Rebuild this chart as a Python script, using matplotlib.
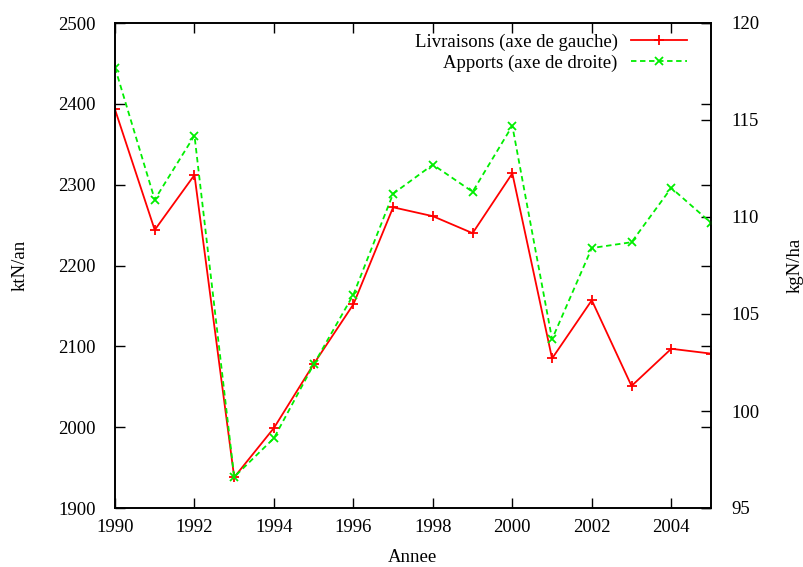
import matplotlib
matplotlib.use("Agg")
import matplotlib.pyplot as plt

years = list(range(1990, 2006))
livraisons = [2393, 2244, 2312, 1938, 1999, 2078, 2152, 2272, 2261, 2240, 2314, 2085, 2157, 2051, 2097, 2091]
apports = [117.7, 110.9, 114.2, 96.6, 98.6, 102.4, 106.0, 111.2, 112.7, 111.3, 114.7, 103.7, 108.4, 108.7, 111.5, 109.7]

xticks = list(range(1990, 2005, 2))
yticks_left = list(range(1900, 2501, 100))
yticks_right = list(range(95, 121, 5))

plt.rcParams['font.family'] = ['Liberation Serif', 'DejaVu Serif']
plt.rcParams['font.size'] = 13.5

fig = plt.figure(figsize=(8.04, 5.67), dpi=100)
ax = fig.add_axes([115/804, 1-508/567, (711-115)/804, (508-23)/567])
ax2 = ax.twinx()

l1, = ax.plot(years, livraisons, color='#ff0000', lw=1.3, marker='+', ms=7, mew=1.3,
              label='Livraisons (axe de gauche)')
l2, = ax2.plot(years, apports, color='#00ee00', lw=1.3, ls=(0, (3, 2)), marker='x', ms=6, mew=1.3,
               label='Apports (axe de droite)')

ax.set_xlim(1990, 2005)
ax.set_ylim(1900, 2500)
ax2.set_ylim(95, 120)
ax.set_xticks(xticks)
ax.set_yticks(yticks_left)
ax2.set_yticks(yticks_right)

ax.tick_params(direction='in', length=7, width=1, top=True, right=True, pad=8, colors='black')
ax.tick_params(axis='y', pad=14)
ax2.tick_params(direction='in', length=7, width=1, pad=15)
for a in (ax, ax2):
    for s in a.spines.values():
        s.set_linewidth(1.2)

fig.text(412/804, 1-558/567, 'Annee', ha='center', va='center')
fig.text(20/804, 1-265/567, 'ktN/an', rotation=90, ha='center', va='center')
fig.text(795/804, 1-265/567, 'kgN/ha', rotation=90, ha='center', va='center')

leg = ax2.legend(handles=[l1, l2], loc='upper right', frameon=False, markerfirst=False,
                 handlelength=3.0, borderaxespad=0.15, labelspacing=0.2, handletextpad=0.7,
                 bbox_to_anchor=(0.977, 1.0))
for t in leg.get_texts():
    t.set_ha('right')

fig.savefig('out.png', dpi=100)
